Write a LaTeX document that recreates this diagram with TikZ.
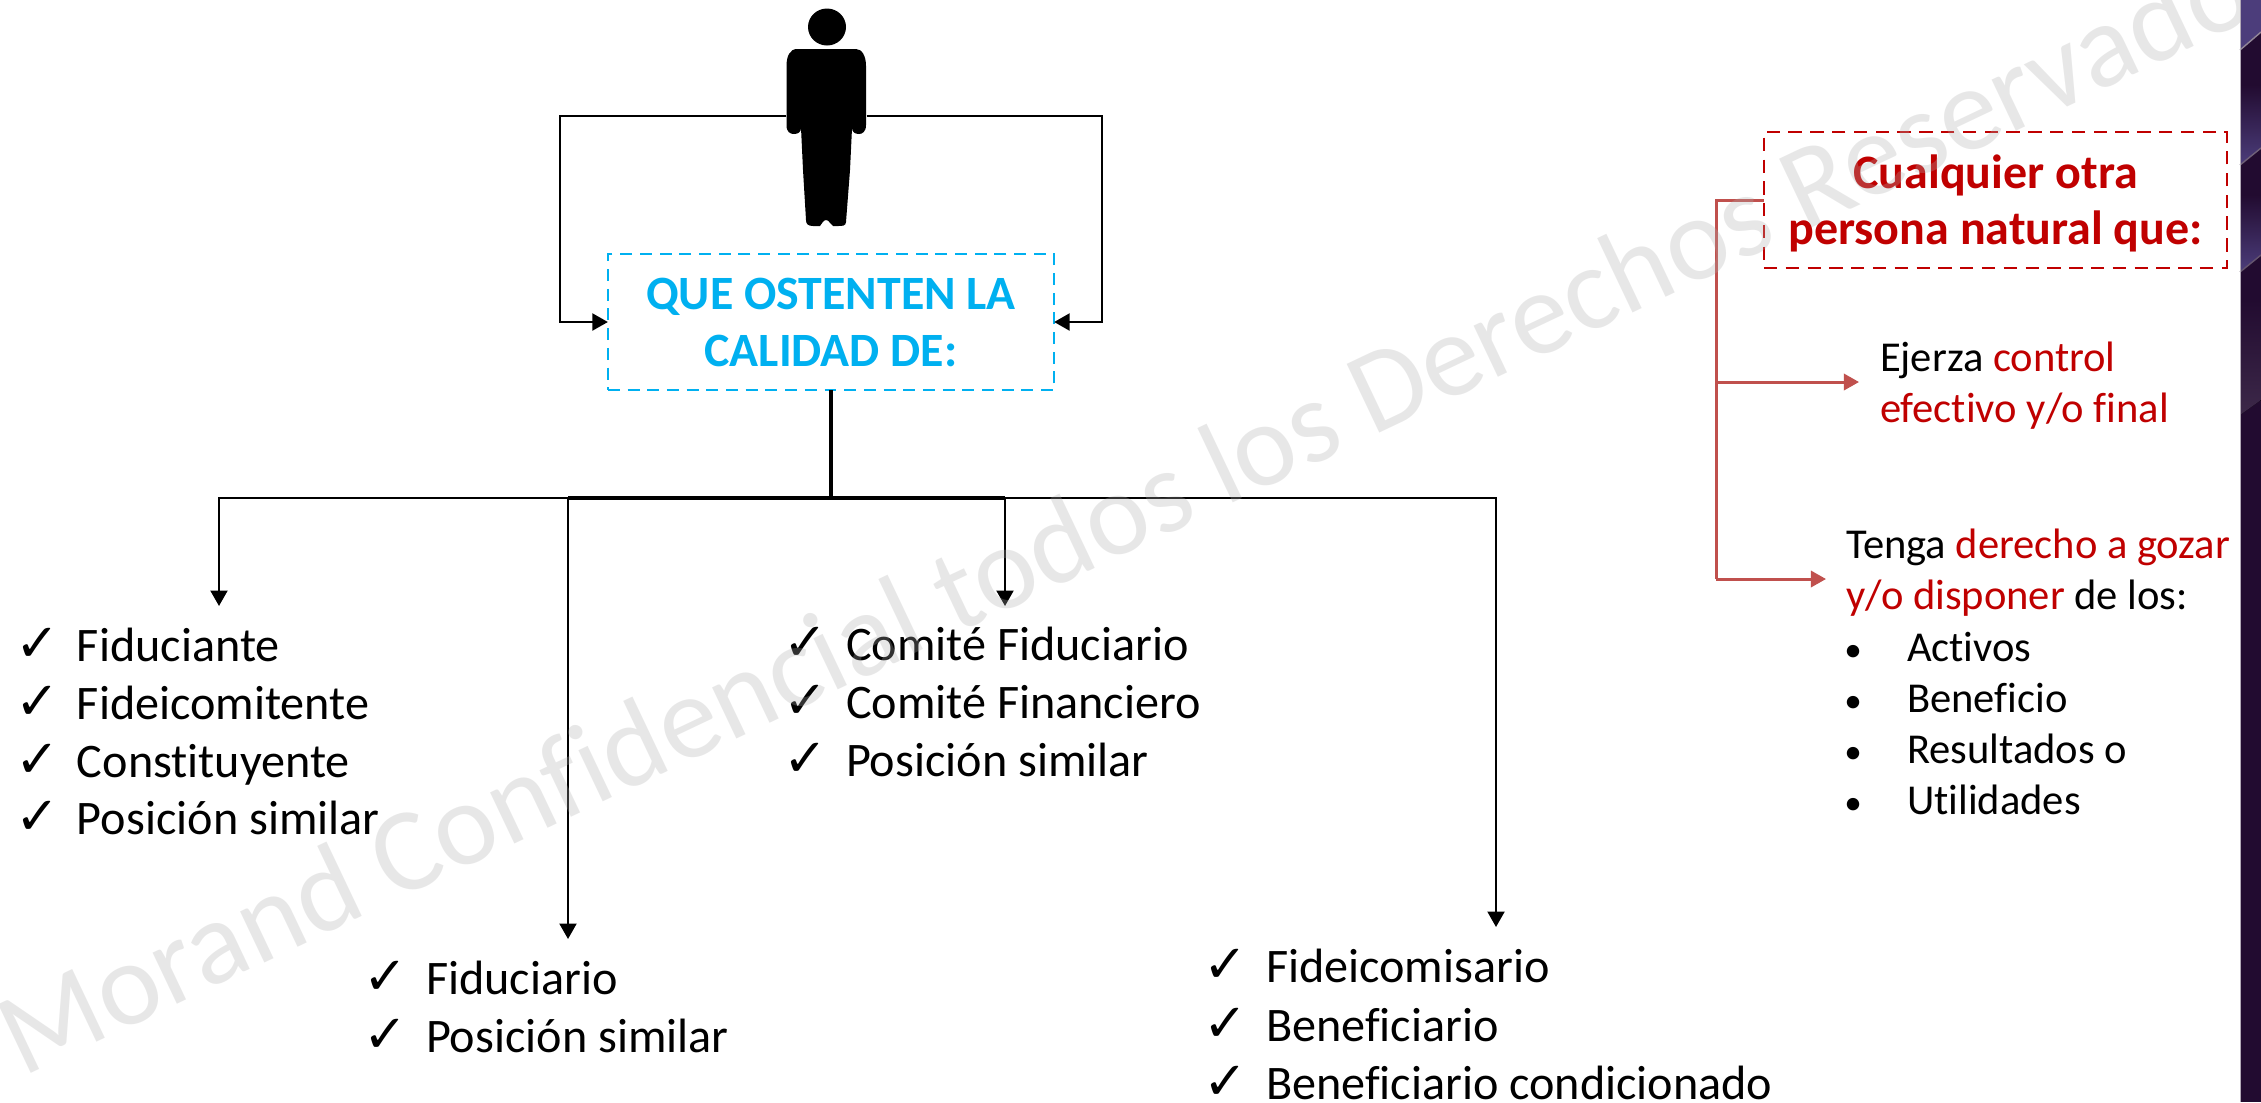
\documentclass[tikz,border=0pt]{standalone}
\usepackage{fontspec}
\setmainfont[Ligatures=NoCommon]{Carlito}
\newfontfamily\chkfont{DejaVu Sans}
\usetikzlibrary{arrows.meta}
\definecolor{cyanq}{HTML}{00B0F0}
\definecolor{redq}{HTML}{C00000}
\definecolor{redline}{HTML}{C0504D}
\definecolor{wmgray}{HTML}{AFAFAF}
\definecolor{panelbase}{HTML}{220B30}
\tikzset{
  blackarrow/.style={draw=black,line width=.7pt,-{Triangle[length=4.4pt,width=4.8pt]}},
  redarrow/.style={draw=redline,line width=.85pt,-{Triangle[length=4.3pt,width=4.6pt]}},
  listitem/.style={anchor=base west,inner sep=0pt,outer sep=0pt,font=\fontsize{13.7}{16}\selectfont},
  chkitem/.style={anchor=base west,inner sep=0pt,outer sep=0pt,font=\chkfont\bfseries\fontsize{15}{16}\selectfont},
  rightitem/.style={anchor=base west,inner sep=0pt,outer sep=0pt,font=\fontsize{12.1}{14.4}\selectfont},
  rightdot/.style={anchor=base,inner sep=0pt,outer sep=0pt,font=\fontsize{10}{14.4}\selectfont},
  rightpara/.style={anchor=north west,inner sep=0pt,outer sep=0pt,align=left,font=\fontsize{12.1}{14.4}\selectfont},
  quebox/.style={draw=cyanq,line width=.7pt,dash pattern=on 3.4pt off 2.2pt,text=cyanq,align=center,inner sep=0pt,outer sep=0pt,
    minimum width=4.46cm,minimum height=1.36cm,font=\bfseries\fontsize{13.6}{16.2}\selectfont},
  redbox/.style={draw=redq,line width=.7pt,dash pattern=on 3.8pt off 2.4pt,text=redq,align=center,inner sep=0pt,outer sep=0pt,
    minimum width=4.63cm,minimum height=1.36cm,font=\bfseries\fontsize{13.65}{16}\selectfont},
}
\begin{document}
\begin{tikzpicture}[x=.01cm,y=-.01cm]
\useasboundingbox (0,0) rectangle (2261,1102);
\fill[white] (0,0) rectangle (2261,1102);

% person
\node[inner sep=0pt,outer sep=0pt,minimum width=.8cm,minimum height=2.2cm] (person) at (826.5,116) {};
\fill[black] (827,27) ellipse [x radius=19,y radius=18.5];
\fill[black] (797,49) -- (856,49) .. controls (862,49) and (866,56) .. (866,66)
  -- (866,125) .. controls (866,132) and (862,134) .. (859,134)
  .. controls (855,134) and (852,132) .. (852,128)
  -- (850,170) -- (846,222) .. controls (846,226) and (842,226) .. (838,226)
  -- (833,226) .. controls (830,224) and (829,220) .. (826,220)
  .. controls (823,220) and (822,224) .. (820,226)
  -- (813,226) .. controls (808,226) and (806,224) .. (806,220)
  -- (803,170) -- (801,128) .. controls (801,132) and (798,134) .. (794,134)
  .. controls (790,134) and (786.5,132) .. (786.5,125)
  -- (786.5,66) .. controls (786.5,56) and (790,49) .. (797,49) -- cycle;

% main box
\node[quebox] (que) at (831,322) {QUE OSTENTEN LA\\CALIDAD DE:};
\coordinate (lc) at (560,322);
\coordinate (rc) at (1102,322);
\draw[blackarrow] (person.west) -| (lc) -- (que.west);
\draw[blackarrow] (person.east) -| (rc) -- (que.east);

% tree
\coordinate (hub) at (831,498);
\coordinate (b1) at (219,606);
\coordinate (b2) at (568,939);
\coordinate (b3) at (1005,606);
\coordinate (b4) at (1496,927);
\draw[black,line width=1pt] (que.south) -- (hub);
\draw[black,line width=1pt] (b2 |- hub) -- (b3 |- hub);
\draw[blackarrow] (hub) -| (b1);
\draw[blackarrow] (hub) -| (b2);
\draw[blackarrow] (hub) -| (b3);
\draw[blackarrow] (hub) -| (b4);

% lists
\node[chkitem] (c1) at (15,661) {✓};
\node[listitem] (f1) at (77,661) {Fiduciante};
\node[chkitem] (c2) at (15,719) {✓};
\node[listitem] (f2) at (77,719) {Fideicomitente};
\node[chkitem] (c3) at (15,777) {✓};
\node[listitem] (f3) at (77,777) {Constituyente};
\node[chkitem] (c4) at (15,834) {✓};
\node[listitem] (f4) at (77,834) {Posición similar};

\node[chkitem] (c5) at (363,994) {✓};
\node[listitem] (g1) at (426,994) {Fiduciario};
\node[chkitem] (c6) at (363,1052) {✓};
\node[listitem] (g2) at (426,1052) {Posición similar};

\node[chkitem] (c7) at (783,660) {✓};
\node[listitem] (h1) at (846,660) {Comité Fiduciario};
\node[chkitem] (c8) at (783,718) {✓};
\node[listitem] (h2) at (846,718) {Comité Financiero};
\node[chkitem] (c9) at (783,776) {✓};
\node[listitem] (h3) at (846,776) {Posición similar};

\node[chkitem] (c10) at (1203,982) {✓};
\node[listitem] (k1) at (1266,982) {Fideicomisario};
\node[chkitem] (c11) at (1203,1041) {✓};
\node[listitem] (k2) at (1266,1041) {Beneficiario};
\node[chkitem] (c12) at (1203,1099) {✓};
\node[listitem] (k3) at (1266,1099) {Beneficiario condicionado};

% right
\node[redbox] (red) at (1995.5,200) {\rule{0pt}{11.4pt}Cualquier otra\\persona natural que:};
\coordinate (rt) at (1716,200);
\coordinate (a1) at (1859,382);
\coordinate (a2) at (1826,579);
\draw[draw=redline,line width=.85pt] (red.west) -- (rt) -- (rt |- a2);
\draw[redarrow] (rt |- a1) -- (a1);
\draw[redarrow] (rt |- a2) -- (a2);
\node[rightpara] (p1) at (1880,342) {Ejerza \textcolor{redq}{control}\\\textcolor{redq}{efectivo y/o final}};
\node[rightpara] (p2) at (1846,529) {Tenga \textcolor{redq}{derecho a gozar}\\\textcolor{redq}{y/o disponer} de los:};
\node[rightdot] (d1) at (1853,661) {•};
\node[rightitem] (r1) at (1907,661) {Activos};
\node[rightdot] (d2) at (1853,712) {•};
\node[rightitem] (r2) at (1907,712) {Beneficio};
\node[rightdot] (d3) at (1853,763) {•};
\node[rightitem] (r3) at (1907,763) {Resultados o};
\node[rightdot] (d4) at (1853,814) {•};
\node[rightitem] (r4) at (1907,814) {Utilidades};

% watermark
\node[anchor=base west,rotate=25.4,inner sep=0pt,text=wmgray,text opacity=.29,font=\fontsize{33.7}{38}\selectfont] (wm) at (22,1078) {Morand Confidencial todos los Derechos Reservados};

% dark panel
\fill[panelbase] (2240,0) rectangle (2261,1102);
\fill[top color=panelbase,bottom color=panelbase!75!white!85!blue,shading angle=0] (2240,85) -- (2261,85) -- (2261,148) -- (2240,165) -- cycle;
\fill[top color=panelbase,bottom color=panelbase!75!white!85!blue] (2240,195) -- (2261,195) -- (2261,255) -- (2240,272) -- cycle;
\fill[top color=panelbase,bottom color=panelbase!88!white] (2240,300) -- (2261,300) -- (2261,400) -- (2240,415) -- cycle;
\fill[panelbase!75!white!85!blue] (2240,0) -- (2261,0) -- (2261,32) -- (2240,50) -- cycle;
\draw[panelbase!50!white,line width=.4pt] (2240,50) -- (2261,32);
\draw[panelbase!65!white,line width=.4pt] (2240,165) -- (2261,148);
\draw[panelbase!70!white,line width=.4pt] (2240,272) -- (2261,255);
\draw[panelbase!35!white,line width=.5pt] (2240.5,0) -- (2240.5,1102);
\end{tikzpicture}
\end{document}
